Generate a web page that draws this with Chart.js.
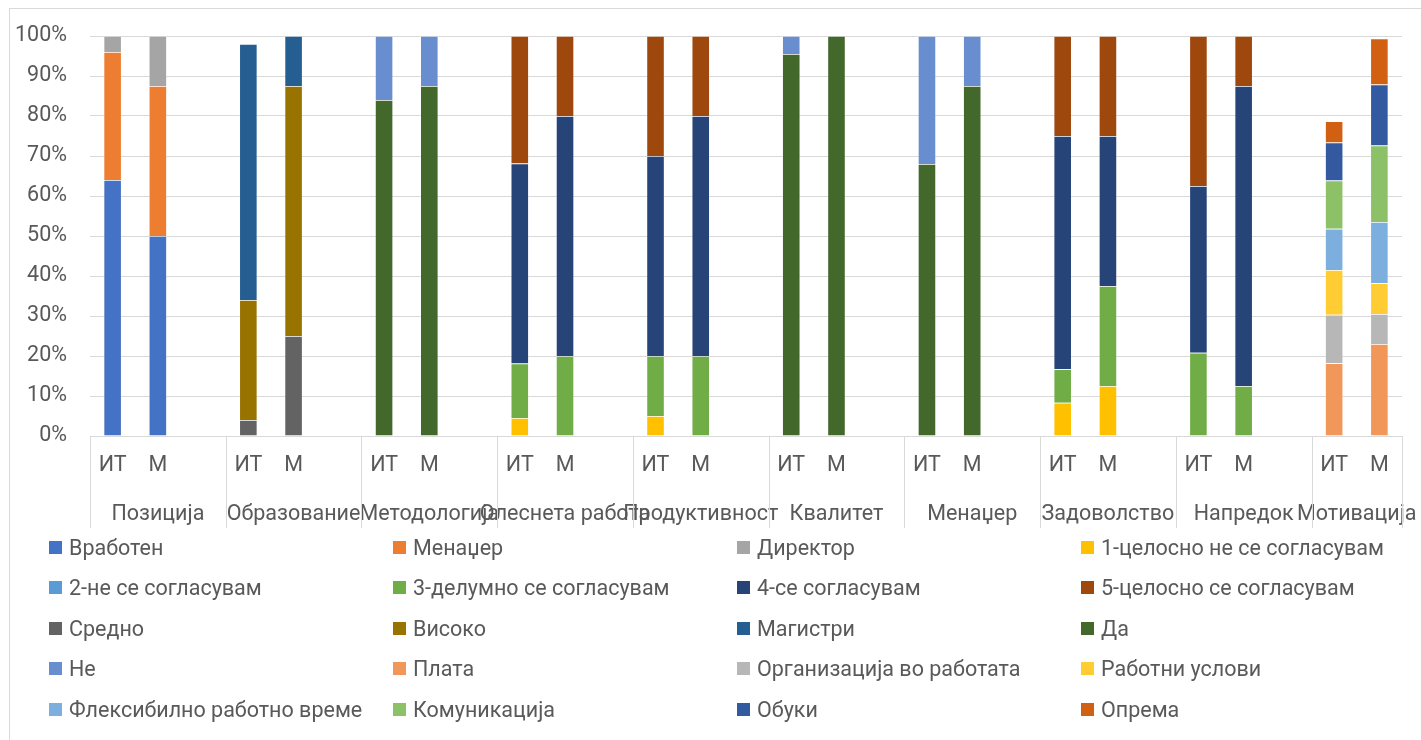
<!DOCTYPE html>
<html>
<head>
<meta charset="utf-8">
<script src="https://cdn.jsdelivr.net/npm/chart.js@4.4.0/dist/chart.umd.min.js"></script>
<style>
  html, body { margin: 0; padding: 0; background: #ffffff; width: 1421px; height: 740px; overflow: hidden; }
  #frame { position: absolute; left: 9px; top: 8px; width: 1500px; height: 800px; border: 1px solid #D9D9D9; box-sizing: border-box; }
  #wrap { position: absolute; left: 0; top: 0; width: 1421px; height: 740px; }
  #legend {
    position: absolute; left: 49px; top: 527px;
    display: grid; grid-template-columns: repeat(4, 344px); grid-auto-rows: 40.5px;
    font-family: Roboto, "Noto Sans", sans-serif; font-size: 21.5px; color: #595959;
  }
  #legend .item { display: flex; align-items: center; white-space: nowrap; }
  #legend .box { width: 13px; height: 13px; margin-right: 7px; flex: none; }
</style>
</head>
<body>
<div id="frame"></div>
<div id="wrap"><canvas id="chart" width="1421" height="740"></canvas></div>
<div id="legend"></div>
<script>
// Survey topics and the two respondent groups
const groups = ['Позиција', 'Образование', 'Методологија', 'Олеснета работа', 'Продуктивност',
                'Квалитет', 'Менаџер', 'Задоволство', 'Напредок', 'Мотивација'];
const subgroups = ['ИТ', 'М'];
const yTicks = [0, 10, 20, 30, 40, 50, 60, 70, 80, 90, 100];

// Shares in %, one value per bar: [Позиција ИТ, Позиција М, Образование ИТ, Образование М, ...]
const _ = null;
const vraboten      = [64, 50,   _, _,      _, _,      _, _,        _, _,      _, _,       _, _,      _, _,        _, _,        _, _];
const menadzer      = [32, 37.5, _, _,      _, _,      _, _,        _, _,      _, _,       _, _,      _, _,        _, _,        _, _];
const direktor      = [4, 12.5,  _, _,      _, _,      _, _,        _, _,      _, _,       _, _,      _, _,        _, _,        _, _];
const likert1       = [_, _,     _, _,      _, _,      4.5, _,      5, _,      _, _,       _, _,      8.3, 12.5,   _, _,        _, _];
const likert2       = [_, _,     _, _,      _, _,      _, _,        _, _,      _, _,       _, _,      _, _,        _, _,        _, _];
const likert3       = [_, _,     _, _,      _, _,      13.6, 20,    15, 20,    _, _,       _, _,      8.4, 25,     20.8, 12.5,  _, _];
const likert4       = [_, _,     _, _,      _, _,      50, 60,      50, 60,    _, _,       _, _,      58.3, 37.5,  41.7, 75,    _, _];
const likert5       = [_, _,     _, _,      _, _,      31.9, 20,    30, 20,    _, _,       _, _,      25, 25,      37.5, 12.5,  _, _];
const sredno        = [_, _,     4, 25,     _, _,      _, _,        _, _,      _, _,       _, _,      _, _,        _, _,        _, _];
const visoko        = [_, _,     30, 62.5,  _, _,      _, _,        _, _,      _, _,       _, _,      _, _,        _, _,        _, _];
const magistri      = [_, _,     64, 12.5,  _, _,      _, _,        _, _,      _, _,       _, _,      _, _,        _, _,        _, _];
const da            = [_, _,     _, _,      84, 87.5,  _, _,        _, _,      95.5, 100,  68, 87.5,  _, _,        _, _,        _, _];
const ne            = [_, _,     _, _,      16, 12.5,  _, _,        _, _,      4.5, _,     32, 12.5,  _, _,        _, _,        _, _];
const plata         = [_, _,     _, _,      _, _,      _, _,        _, _,      _, _,       _, _,      _, _,        _, _,        18.2, 23];
const organizacija  = [_, _,     _, _,      _, _,      _, _,        _, _,      _, _,       _, _,      _, _,        _, _,        12.1, 7.5];
const rabotniUslovi = [_, _,     _, _,      _, _,      _, _,        _, _,      _, _,       _, _,      _, _,        _, _,        11.2, 7.7];
const fleksibilno   = [_, _,     _, _,      _, _,      _, _,        _, _,      _, _,       _, _,      _, _,        _, _,        10.3, 15.3];
const komunikacija  = [_, _,     _, _,      _, _,      _, _,        _, _,      _, _,       _, _,      _, _,        _, _,        12.1, 19.1];
const obuki         = [_, _,     _, _,      _, _,      _, _,        _, _,      _, _,       _, _,      _, _,        _, _,        9.5, 15.3];
const oprema        = [_, _,     _, _,      _, _,      _, _,        _, _,      _, _,       _, _,      _, _,        _, _,        5.3, 11.5];

const series = [
  { label: 'Вработен', data: vraboten, color: '#4472C4' },
  { label: 'Менаџер', data: menadzer, color: '#ED7D31' },
  { label: 'Директор', data: direktor, color: '#A5A5A5' },
  { label: '1-целосно не се согласувам', data: likert1, color: '#FFC000' },
  { label: '2-не се согласувам', data: likert2, color: '#5B9BD5' },
  { label: '3-делумно се согласувам', data: likert3, color: '#70AD47' },
  { label: '4-се согласувам', data: likert4, color: '#264478' },
  { label: '5-целосно се согласувам', data: likert5, color: '#9E480E' },
  { label: 'Средно', data: sredno, color: '#636363' },
  { label: 'Високо', data: visoko, color: '#997300' },
  { label: 'Магистри', data: magistri, color: '#255E91' },
  { label: 'Да', data: da, color: '#43682B' },
  { label: 'Не', data: ne, color: '#698ED0' },
  { label: 'Плата', data: plata, color: '#F1975A' },
  { label: 'Организација во работата', data: organizacija, color: '#B7B7B7' },
  { label: 'Работни услови', data: rabotniUslovi, color: '#FFCD33' },
  { label: 'Флексибилно работно време', data: fleksibilno, color: '#7CAFDD' },
  { label: 'Комуникација', data: komunikacija, color: '#8CC168' },
  { label: 'Обуки', data: obuki, color: '#335AA1' },
  { label: 'Опрема', data: oprema, color: '#D26012' }
];

// Category slots: ИТ, М and an empty spacer after every topic except the last
const labels = [];
const slotOfBar = [];
const groupSpans = [];
groups.forEach((g, gi) => {
  const start = labels.length;
  subgroups.forEach(s => { slotOfBar.push(labels.length); labels.push(s); });
  if (gi < groups.length - 1) labels.push('');
  groupSpans.push({ name: g, first: start, last: labels.length - 1 });
});

function toSlots(values) {
  const out = new Array(labels.length).fill(null);
  values.forEach((v, i) => { out[slotOfBar[i]] = v; });
  return out;
}

const FONT = 'Roboto, "Noto Sans", sans-serif';
const FONT_SIZE = 21.5;
const TEXT = '#595959';
const GRID = '#D9D9D9';

// Topic names and separators under the ИТ / М labels
const groupAxis = {
  id: 'groupAxis',
  afterDraw(chart) {
    const x = chart.scales.x;
    const ctx = chart.ctx;
    const bottom = chart.chartArea.bottom;
    const half = (x.getPixelForValue(1) - x.getPixelForValue(0)) / 2;
    ctx.save();
    ctx.strokeStyle = GRID;
    ctx.lineWidth = 1;
    ctx.fillStyle = TEXT;
    ctx.font = FONT_SIZE + 'px ' + FONT;
    ctx.textAlign = 'center';
    ctx.textBaseline = 'middle';
    const edges = [];
    groupSpans.forEach(sp => {
      const x0 = x.getPixelForValue(sp.first) - half;
      const x1 = x.getPixelForValue(sp.last) + half;
      edges.push(x0);
      ctx.fillText(sp.name, (x0 + x1) / 2, bottom + 79);
    });
    edges.push(x.getPixelForValue(groupSpans[groupSpans.length - 1].last) + half);
    ctx.beginPath();
    edges.forEach(e => {
      const px = Math.round(e) + 0.5;
      ctx.moveTo(px, bottom);
      ctx.lineTo(px, bottom + 92);
    });
    ctx.stroke();
    ctx.restore();
  }
};

const chart = new Chart(document.getElementById('chart'), {
  type: 'bar',
  data: {
    labels: labels,
    datasets: series.map(s => ({
      label: s.label,
      data: toSlots(s.data),
      backgroundColor: s.color,
      borderColor: 'rgba(255,255,255,0.35)',
      borderWidth: 0.75,
      categoryPercentage: 1,
      barPercentage: 0.4
    }))
  },
  options: {
    responsive: false,
    animation: false,
    layout: { padding: { top: 36, right: 19, left: 0, bottom: 0 } },
    plugins: { legend: { display: false }, tooltip: { enabled: false } },
    scales: {
      x: {
        stacked: true,
        grid: { display: false, drawTicks: false },
        border: { display: false },
        ticks: { autoSkip: false, maxRotation: 0, minRotation: 0, padding: 17,
                  color: TEXT, font: { family: FONT, size: FONT_SIZE } },
        afterFit(scale) { scale.height = 304; }
      },
      y: {
        stacked: true,
        min: 0, max: 100,
        afterBuildTicks(scale) { scale.ticks = yTicks.map(v => ({ value: v })); },
        grid: { color: GRID, lineWidth: 1, drawTicks: false },
        border: { display: false },
        ticks: { padding: 23, color: TEXT, font: { family: FONT, size: FONT_SIZE },
                  callback: v => v + '%' },
        afterFit(scale) { scale.width = 90; }
      }
    }
  },
  plugins: [groupAxis]
});

// Legend in four columns, taken from the chart's datasets
const legendEl = document.getElementById('legend');
chart.data.datasets.forEach(ds => {
  const item = document.createElement('div');
  item.className = 'item';
  const box = document.createElement('span');
  box.className = 'box';
  box.style.background = ds.backgroundColor;
  const txt = document.createElement('span');
  txt.textContent = ds.label;
  item.appendChild(box);
  item.appendChild(txt);
  legendEl.appendChild(item);
});
</script>
</body>
</html>
